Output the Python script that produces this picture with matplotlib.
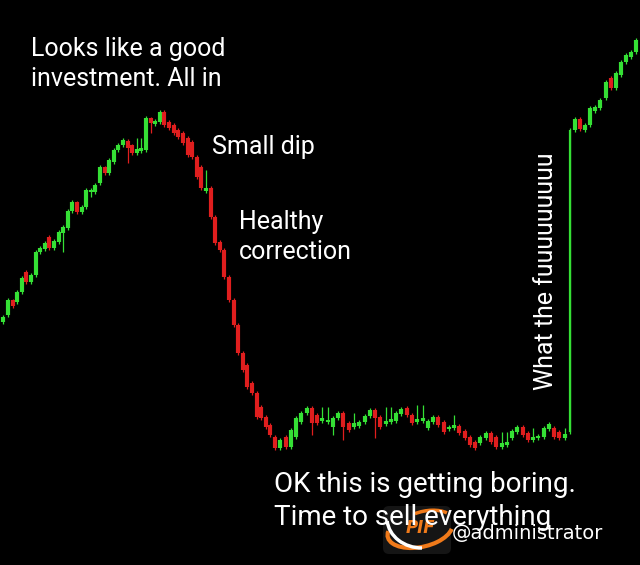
import numpy as np
import matplotlib
matplotlib.use("Agg")
import matplotlib.pyplot as plt
from matplotlib.patches import Arc, FancyBboxPatch

# ── Candle data (price units; one candle per bar) ───────────────────────────────
opens = [243, 250, 265, 263, 273, 293, 283, 290, 313, 316,
         328, 317, 323, 332, 337, 354, 363, 353, 358, 373,
         373, 382, 398, 392, 403, 415, 420, 424, 420, 412,
         414, 415, 447, 441, 443, 453, 443, 440, 435, 432,
         427, 423, 408, 398, 374, 377, 348, 323, 315, 288,
         265, 240, 212, 200, 182, 172, 158, 148, 140, 128,
         117, 128, 118, 128, 143, 152, 157, 150, 144, 143,
         138, 147, 152, 142, 138, 139, 143, 149, 155, 148,
         141, 143, 144, 151, 157, 150, 143, 144, 137, 143,
         148, 143, 136, 137, 139, 134, 128, 123, 122, 127,
         132, 128, 118, 120, 127, 133, 138, 132, 125, 127,
         128, 136, 137, 133, 127, 133, 435, 446, 435, 440,
         454, 457, 467, 487, 477, 490, 503, 508, 513]
closes = [248, 265, 259, 273, 287, 283, 290, 313, 317, 322,
          317, 324, 333, 338, 354, 363, 353, 358, 375, 375,
          380, 398, 392, 405, 415, 420, 425, 417, 412, 416,
          417, 447, 442, 444, 453, 440, 437, 432, 428, 422,
          410, 408, 388, 377, 377, 348, 322, 315, 288, 265,
          240, 212, 195, 178, 172, 148, 147, 138, 130, 117,
          125, 118, 135, 147, 152, 157, 142, 142, 147, 145,
          147, 152, 138, 135, 142, 143, 149, 155, 147, 138,
          144, 146, 152, 156, 150, 142, 146, 147, 144, 148,
          140, 133, 138, 140, 132, 127, 120, 117, 128, 132,
          123, 118, 122, 123, 134, 138, 130, 125, 128, 129,
          137, 141, 128, 127, 131, 435, 446, 436, 440, 457,
          458, 465, 483, 477, 492, 503, 510, 513, 525]
highs = [250, 267, 266, 275, 289, 295, 292, 315, 319, 324,
         330, 326, 335, 340, 356, 365, 364, 360, 377, 377,
         382, 400, 399, 407, 417, 422, 427, 426, 421, 427,
         427, 449, 448, 446, 455, 455, 445, 442, 437, 434,
         429, 425, 410, 400, 395, 379, 350, 325, 317, 290,
         267, 242, 214, 202, 184, 174, 160, 150, 142, 130,
         127, 130, 137, 149, 154, 159, 159, 152, 158, 158,
         149, 154, 154, 144, 152, 145, 151, 157, 157, 150,
         158, 158, 154, 158, 159, 152, 160, 160, 146, 150,
         150, 145, 140, 150, 141, 136, 130, 125, 130, 134,
         134, 130, 133, 133, 136, 140, 140, 134, 137, 131,
         139, 143, 139, 135, 137, 437, 448, 448, 442, 459,
         460, 467, 485, 489, 494, 505, 512, 515, 527]
lows = [241, 248, 257, 261, 271, 281, 281, 288, 311, 314,
        315, 315, 321, 313, 335, 352, 351, 351, 356, 368,
        371, 380, 390, 390, 401, 413, 418, 402, 410, 410,
        412, 413, 432, 439, 441, 438, 435, 430, 426, 420,
        408, 406, 386, 375, 372, 346, 320, 313, 286, 263,
        238, 210, 193, 176, 170, 146, 145, 136, 128, 115,
        115, 116, 116, 126, 141, 150, 130, 140, 142, 141,
        130, 145, 125, 133, 136, 137, 141, 147, 127, 136,
        139, 141, 142, 149, 148, 140, 141, 142, 135, 141,
        138, 131, 134, 135, 130, 125, 118, 115, 120, 125,
        121, 116, 116, 118, 125, 131, 128, 123, 123, 125,
        126, 134, 126, 125, 125, 131, 433, 434, 433, 438,
        452, 455, 465, 475, 475, 488, 501, 506, 511]

captions = ["Looks like a good\ninvestment. All in", "Small dip",
            "Healthy\ncorrection",
            "OK this is getting boring.\nTime to sell everything"]
scream = "What the fuuuuuuuuu"
handle = "@administrator"

GREEN = "#35e035"
RED = "#e01e1e"

o = np.array(opens, float)
c = np.array(closes, float)
hi = np.array(highs, float)
lo = np.array(lows, float)
x = np.arange(len(o))
col = np.where(c >= o, GREEN, RED)

# the screenshot's time axis is not quite evenly spaced: piecewise-linear scale
k_idx = [-30, 0, 59, 115, 128, 160]
k_px = [3.3 - 30 * 4.61, 3.3, 275, 570, 636, 636 + 32 * 5.08]
fwd = lambda v: np.interp(v, k_idx, k_px)
inv = lambda v: np.interp(v, k_px, k_idx)

fig = plt.figure(figsize=(6.4, 5.65), dpi=100, facecolor="black")
ax = fig.add_axes([0, 0, 1, 1])
ax.set_facecolor("black")
ax.set_xscale("function", functions=(fwd, inv))
ax.set_xlim(inv(0.0), inv(640.0))
ax.set_ylim(0, 565)
ax.axis("off")

ax.vlines(x, lo, hi, colors=col, lw=0.9)
body = np.abs(c - o)
big = body > 100                       # the vertical "fuuu" candle is thin
ax.vlines(x[~big], np.minimum(o, c)[~big], np.maximum(o, c)[~big],
          colors=col[~big], lw=3.0)
ax.vlines(x[big], np.minimum(o, c)[big], np.maximum(o, c)[big],
          colors=col[big], lw=1.6)

# ── annotations (figure pixel positions) ────────────────────────────────────────
def put(px, py, s, **kw):
    fig.text(px / 640, 1 - py / 565, s, color="white", family="Roboto", **kw)

tk = dict(fontsize=18, linespacing=1.27, va="center")
put(31, 64, captions[0], **tk)
put(212, 147, captions[1], **tk)
put(239, 237, captions[2], **tk)
put(274, 501, captions[3], fontsize=20, linespacing=1.26, va="center")
put(546, 271, scream, fontsize=18, rotation=90, ha="center", va="center")

# watermark
fig.text(452 / 640, 1 - 533 / 565, handle, color="white", fontsize=14,
         family="DejaVu Sans", va="center")
lg = fig.add_axes([380 / 640, 1 - 556 / 565, 76 / 640, 54 / 565])
lg.set_xlim(0, 76)
lg.set_ylim(0, 54)
lg.axis("off")
lg.add_patch(FancyBboxPatch((3, 2), 68, 48, boxstyle="round,pad=0,rounding_size=6",
                            fc="#151515", ec="none"))
lg.add_patch(Arc((40, 26), 66, 34, angle=12, theta1=170, theta2=350,
                 color="#f07a1a", lw=3))
lg.add_patch(Arc((46, 30), 56, 30, angle=12, theta1=20, theta2=120,
                 color="#f07a1a", lw=2.5))
lg.add_patch(Arc((42, 38), 70, 60, angle=0, theta1=185, theta2=270,
                 color="white", lw=2.5))
lg.text(40, 28, "PIF", color="#f07a1a", fontsize=12, fontweight="bold",
        fontstyle="italic", ha="center", va="center", family="DejaVu Sans")

fig.savefig("out.png", dpi=100, facecolor="black")
